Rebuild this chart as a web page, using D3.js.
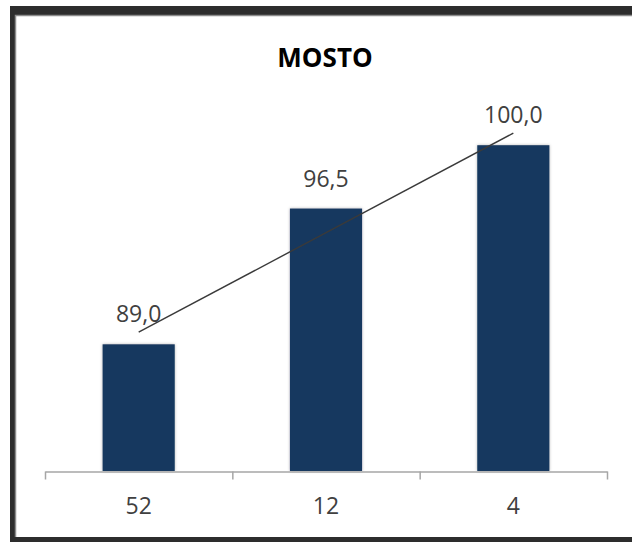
<!DOCTYPE html>
<html>
<head>
<meta charset="utf-8">
<script src="https://cdn.jsdelivr.net/npm/d3@7"></script>
<style>
  body { margin: 0; background: #fff; }
  svg { display: block; font-family: "Open Sans", sans-serif; }
</style>
</head>
<body>
<div id="chart"></div>
<script>
// data
const title = "MOSTO";
const categories = ["52", "12", "4"];
const values = [89.0, 96.5, 100.0];

const width = 632;
const height = 542;

const svg = d3.select("#chart")
    .append("svg")
    .attr("width", width)
    .attr("height", height);

// frame (dark border of the screenshot)
svg.append("rect")
    .attr("x", 10).attr("y", 6)
    .attr("width", width).attr("height", height)
    .attr("fill", "#2d2d2d");
svg.append("rect")
    .attr("x", 16).attr("y", 15)
    .attr("width", width).attr("height", 537 - 15)
    .attr("fill", "#fff");
svg.append("path")
    .attr("d", `M15.5,${537}V15.5H${width}`)
    .attr("fill", "none")
    .attr("stroke", "#8c8c8c")
    .attr("stroke-width", 1.5);

// shadow for bars
const defs = svg.append("defs");
const f = defs.append("filter").attr("id", "shadow")
    .attr("x", "-20%").attr("y", "-20%").attr("width", "140%").attr("height", "140%");
f.append("feDropShadow")
    .attr("dx", 0).attr("dy", 0)
    .attr("stdDeviation", 1.6)
    .attr("flood-color", "#000")
    .attr("flood-opacity", 0.3);

// scales
const x = d3.scaleBand()
    .domain(categories)
    .range([45, 607])
    .paddingInner(0.615)
    .paddingOuter(0.3075);

const y = d3.scaleLinear()
    .domain([82, 102])
    .range([471, 109]);

const xEdges = d3.scaleLinear()
    .domain([0, categories.length])
    .range([45, 607]);

// title
svg.append("text")
    .attr("x", 325)
    .attr("y", 67)
    .attr("text-anchor", "middle")
    .attr("font-size", 26)
    .attr("font-weight", "bold")
    .attr("fill", "#000")
    .text(title);

// bars
svg.selectAll("rect.bar")
    .data(values)
    .join("rect")
    .attr("class", "bar")
    .attr("x", (d, i) => x(categories[i]))
    .attr("y", d => y(d))
    .attr("width", x.bandwidth())
    .attr("height", d => y(82) - y(d))
    .attr("fill", "#17375e")
    .attr("filter", "url(#shadow)");

// x axis: boundary ticks
svg.append("g")
    .attr("transform", `translate(0, ${471.5})`)
    .call(d3.axisBottom(xEdges)
        .ticks(categories.length)
        .tickValues(d3.range(categories.length + 1))
        .tickSizeInner(8)
        .tickSizeOuter(0)
        .tickFormat(""))
    .call(g => g.selectAll("path, line").attr("stroke", "#a6a6a6").attr("stroke-width", 1.5));

// x axis: category labels
svg.append("g")
    .attr("transform", `translate(0, ${471.5})`)
    .call(d3.axisBottom(x).tickSize(0).tickPadding(26))
    .call(g => g.select(".domain").remove())
    .call(g => g.selectAll("text")
        .attr("font-family", "Open Sans, sans-serif")
        .attr("font-size", 23)
        .attr("fill", "#404040"));

// linear trend line
const cx = values.map((d, i) => x(categories[i]) + x.bandwidth() / 2);
const idx = values.map((d, i) => i);
const mx = d3.mean(idx), my = d3.mean(values);
const slope = d3.sum(idx, i => (i - mx) * (values[i] - my)) / d3.sum(idx, i => (i - mx) ** 2);
const intercept = my - slope * mx;
const trend = [0, values.length - 1].map(i => [cx[i], y(intercept + slope * i)]);

svg.append("path")
    .datum(trend)
    .attr("d", d3.line())
    .attr("fill", "none")
    .attr("stroke", "#3a3a3a")
    .attr("stroke-width", 1.4);

// data labels
const fmt = d => d3.format(".1f")(d).replace(".", ",");
svg.selectAll("text.lbl")
    .data(values)
    .join("text")
    .attr("class", "lbl")
    .attr("x", (d, i) => cx[i])
    .attr("y", d => y(d) - 22)
    .attr("text-anchor", "middle")
    .attr("font-size", 23)
    .attr("fill", "#404040")
    .text(fmt);
</script>
</body>
</html>
